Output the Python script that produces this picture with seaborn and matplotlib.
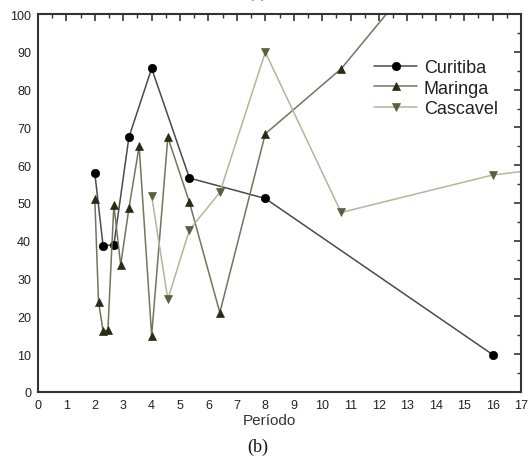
import matplotlib
matplotlib.use("Agg")
import matplotlib.pyplot as plt
import seaborn as sns
import pandas as pd
from matplotlib.ticker import MultipleLocator

# Data (period, value)
curitiba_x = [2.0, 2.29, 2.67, 3.2, 4.0, 5.33, 8.0, 16.0]
curitiba_y = [57.9, 38.7, 38.9, 67.4, 85.6, 56.6, 51.2, 9.9]

maringa_x = [2.0, 2.13, 2.29, 2.46, 2.67, 2.91, 3.2, 3.56, 4.0, 4.57, 5.33, 6.4, 8.0, 10.67, 16.0]
maringa_y = [51.0, 23.9, 16.2, 16.3, 49.5, 33.6, 48.6, 65.0, 14.9, 67.4, 50.2, 21.0, 68.3, 85.5, 134.0]

cascavel_x = [4.0, 4.57, 5.33, 6.4, 8.0, 10.67, 16.0, 32.0]
cascavel_y = [51.9, 24.5, 42.9, 52.8, 89.9, 47.5, 57.4, 71.8]

series_names = ["Curitiba", "Maringa", "Cascavel"]
x_ticks = list(range(0, 18))
y_ticks = list(range(0, 101, 10))

sns.set_theme(style="white")
plt.rcParams['font.family'] = ['Liberation Sans', 'DejaVu Sans']

fig = plt.figure(figsize=(5.29, 4.64), dpi=100)
ax = fig.add_axes([38/529, 71/464, (521-38)/529, (393-15)/464])

styles = {
    "Curitiba": dict(color="#4a4a4a", marker="o", mfc="#000000", mec="#000000"),
    "Maringa": dict(color="#74745e", marker="^", mfc="#2b2b14", mec="#2b2b14"),
    "Cascavel": dict(color="#b5b598", marker="v", mfc="#5e5e3e", mec="#5e5e3e"),
}
data = {
    "Curitiba": (curitiba_x, curitiba_y),
    "Maringa": (maringa_x, maringa_y),
    "Cascavel": (cascavel_x, cascavel_y),
}

for name in series_names:
    xs, ys = data[name]
    df = pd.DataFrame({"Período": xs, "valor": ys})
    st = styles[name]
    sns.lineplot(data=df, x="Período", y="valor", ax=ax, sort=False,
                 color=st["color"], marker=st["marker"], markersize=6,
                 markerfacecolor=st["mfc"], markeredgecolor=st["mec"],
                 markeredgewidth=0.5, linewidth=1.1, label=name)

ax.set_xlim(0, 17)
ax.set_ylim(0, 100)
ax.set_xticks(x_ticks)
ax.set_yticks(y_ticks)
ax.xaxis.set_minor_locator(MultipleLocator(0.5))
ax.yaxis.set_minor_locator(MultipleLocator(5))
ax.tick_params(which="both", direction="in", top=True, right=True,
               labeltop=False, labelright=False, color="#333333")
ax.tick_params(which="major", length=5, width=1.2, labelsize=9, labelcolor="#222222", pad=5)
ax.tick_params(which="minor", length=3, width=1.0)
for s in ax.spines.values():
    s.set_color("#333333")
    s.set_linewidth(1.5)

ax.set_ylabel("")
ax.set_xlabel("Período", fontsize=11, color="#333333", labelpad=1)
ax.xaxis.set_label_coords(0.48, -0.055)

leg = ax.legend(loc="upper left", bbox_to_anchor=(0.677, 0.905), frameon=False,
                fontsize=13, handlelength=2.4, handletextpad=0.35,
                labelspacing=0.2, borderpad=0)
for t in leg.get_texts():
    t.set_color("#222222")

fig.text(258/529, 1 - 447/464, "(b)", ha="center", va="center",
         fontsize=13, family="Liberation Serif", color="#111111")
fig.text(257/529, 1 + 8/464, "(a)", ha="center", va="center",
         fontsize=13, family="Liberation Serif", color="#111111")

fig.savefig("out.png", dpi=100, facecolor="white")
